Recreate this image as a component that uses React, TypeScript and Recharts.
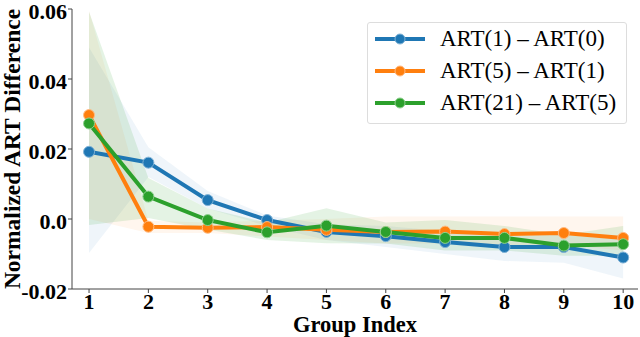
import React from "react";
import { ComposedChart, Line, Area, XAxis, YAxis, Legend, Label } from "recharts";

const groups = [1, 2, 3, 4, 5, 6, 7, 8, 9, 10];

// mean differences per group
const art1minus0 = [0.0192, 0.0161, 0.0054, -0.0003, -0.0037, -0.0049, -0.0066, -0.008, -0.008, -0.011];
const art5minus1 = [0.0297, -0.0022, -0.0025, -0.0023, -0.0031, -0.0037, -0.0036, -0.0043, -0.004, -0.0054];
const art21minus5 = [0.0273, 0.0064, -0.0003, -0.0038, -0.0019, -0.0037, -0.0054, -0.0054, -0.0076, -0.0072];

// shaded spread (low, high)
const band1Lo = [-0.0097, 0.012, 0.003, -0.002, -0.006, -0.008, -0.01, -0.012, -0.0125, -0.017];
const band1Hi = [0.049, 0.0205, 0.008, 0.001, -0.0015, -0.002, -0.0035, -0.005, -0.0045, -0.006];
const band5Lo = [0.0, -0.004, -0.004, -0.005, -0.006, -0.007, -0.007, -0.0075, -0.0075, -0.009];
const band5Hi = [0.0595, -0.0005, -0.001, -0.0005, 0.0, 0.0007, 0.0007, 0.0007, 0.0007, 0.0007];
const band21Lo = [-0.0017, 0.0003, -0.003, -0.006, -0.0069, -0.007, -0.009, -0.009, -0.0105, -0.0105];
const band21Hi = [0.0592, 0.0117, 0.003, -0.001, 0.0031, -0.001, -0.0003, -0.002, -0.0045, -0.002];

const yTicks = [-0.02, 0, 0.02, 0.04, 0.06];

const series = [
  { key: "b", name: "ART(1) – ART(0)", color: "#1f77b4", edge: "#7fb2d6", band: 0.07 },
  { key: "o", name: "ART(5) – ART(1)", color: "#ff7f0e", edge: "#ffbb82", band: 0.07 },
  { key: "g", name: "ART(21) – ART(5)", color: "#2ca02c", edge: "#8fd08f", band: 0.13 },
];

const data = groups.map((x, i) => ({
  x,
  b: art1minus0[i],
  o: art5minus1[i],
  g: art21minus5[i],
  bBand: [band1Lo[i], band1Hi[i]],
  oBand: [band5Lo[i], band5Hi[i]],
  gBand: [band21Lo[i], band21Hi[i]],
}));

const font = "'Liberation Serif', 'Times New Roman', serif";
const axisColor = "#444";
const tickStyle = { fontFamily: font, fontWeight: 700, fontSize: 22, fill: "#000" };

const renderLegend = () => (
  <div
    style={{
      border: "1px solid #ddd",
      borderRadius: 3,
      background: "rgba(255,255,255,0.8)",
      padding: "0 0 0 6px",
      boxSizing: "border-box",
      width: 260,
      height: 102,
    }}
  >
    {series.map((s) => (
      <div key={s.key} style={{ display: "flex", alignItems: "center", height: 32 }}>
        <svg width={52} height={14} style={{ marginRight: 14 }}>
          <line x1={1} y1={7} x2={51} y2={7} stroke={s.color} strokeWidth={4} />
          <circle cx={26} cy={7} r={5} fill={s.color} stroke={s.edge} strokeWidth={1} />
        </svg>
        <span style={{ fontFamily: font, fontSize: 23, color: "#000", whiteSpace: "nowrap" }}>{s.name}</span>
      </div>
    ))}
  </div>
);

const YLabel = (props: any) => {
  const vb = props.viewBox || {};
  const cx = 12;
  const cy = (vb.y ?? 9) + (vb.height ?? 280) / 2;
  return (
    <text
      x={cx}
      y={cy}
      transform={`rotate(-90, ${cx}, ${cy})`}
      textAnchor="middle"
      dominantBaseline="central"
      style={{ fontFamily: font, fontWeight: 700, fontSize: 23.5, fill: "#000" }}
    >
      Normalized ART Difference
    </text>
  );
};

export default function App() {
  return (
    <div style={{ position: "absolute", left: 0, top: 0, width: 640, height: 337, background: "#fff" }}>
      <ComposedChart width={640} height={337} data={data} margin={{ top: 9, right: 2, left: 0, bottom: 0 }}>
        <XAxis
          dataKey="x"
          type="number"
          domain={[0.713, 10.25]}
          ticks={groups}
          allowDataOverflow
          height={48}
          stroke={axisColor}
          tickSize={4}
          tickMargin={0}
          tick={tickStyle}
          interval={0}
        >
          <Label
            value="Group Index"
            position="insideBottom"
            offset={5}
            style={{ fontFamily: font, fontWeight: 700, fontSize: 22.5, fill: "#000" }}
          />
        </XAxis>
        <XAxis
          xAxisId="top"
          orientation="top"
          dataKey="x"
          type="number"
          domain={[0.713, 10.25]}
          height={0}
          tick={false}
          tickLine={false}
          stroke={axisColor}
        />
        <YAxis
          type="number"
          domain={[-0.02, 0.06]}
          ticks={yTicks}
          allowDataOverflow
          width={72}
          stroke={axisColor}
          tickSize={4}
          tickMargin={1}
          tick={{ ...tickStyle, dy: 2 }}
          interval={0}
          tickFormatter={(v: number) => (v === 0 ? "0.0" : v.toFixed(2))}
          label={<YLabel />}
        />
        <YAxis
          yAxisId="right"
          orientation="right"
          type="number"
          domain={[-0.02, 0.06]}
          width={0}
          tick={false}
          tickLine={false}
          stroke={axisColor}
        />
        {series.map((s) => (
          <Area
            key={s.key + "Band"}
            dataKey={s.key + "Band"}
            type="linear"
            stroke="none"
            fill={s.color}
            fillOpacity={s.band}
            legendType="none"
            isAnimationActive={false}
            activeDot={false}
          />
        ))}
        {series.map((s) => (
          <Line
            key={s.key}
            dataKey={s.key}
            name={s.name}
            type="linear"
            stroke={s.color}
            strokeWidth={4}
            dot={{ r: 5.5, fill: s.color, stroke: s.edge, strokeWidth: 1, fillOpacity: 1 }}
            activeDot={false}
            isAnimationActive={false}
          />
        ))}
        <Legend
          layout="vertical"
          align="center"
          verticalAlign="middle"
          content={renderLegend}
          wrapperStyle={{ position: "absolute", left: 367, top: 22, width: 260, height: 102 }}
        />
      </ComposedChart>
    </div>
  );
}
